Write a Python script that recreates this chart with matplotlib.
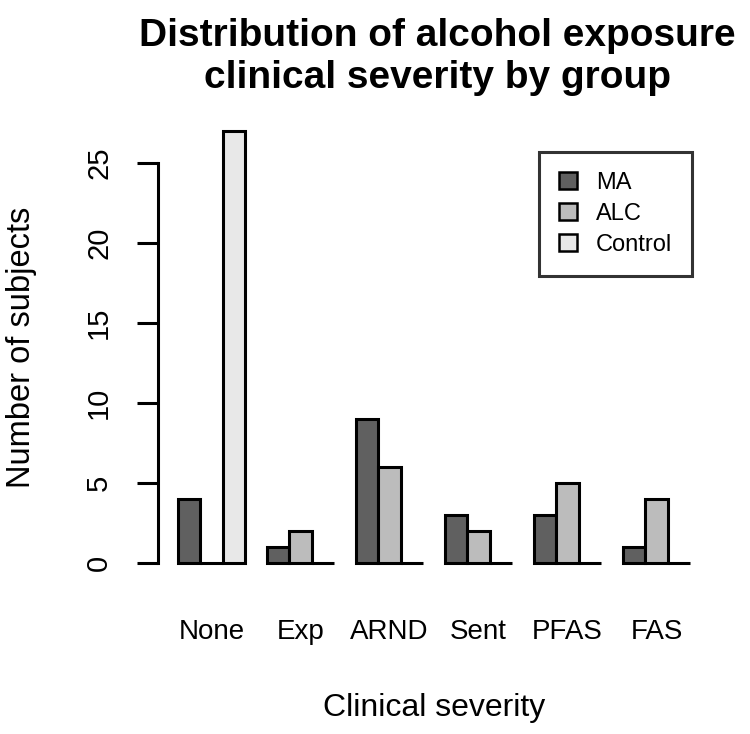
import numpy as np
import matplotlib.pyplot as plt

plt.rcParams['font.family'] = ['Liberation Sans', 'DejaVu Sans']

categories = ['None', 'Exp', 'ARND', 'Sent', 'PFAS', 'FAS']
groups = ['MA', 'ALC', 'Control']
ma = [4, 1, 9, 3, 3, 1]
alc = [0, 2, 6, 2, 5, 4]
control = [27, 0, 0, 0, 0, 0]
colors = ['#606060', '#bcbcbc', '#e8e8e8']

fig = plt.figure(figsize=(7.5, 7.34), dpi=100)
ax = fig.add_axes([157.5 / 750, 1 - 580.3 / 734, 553 / 750, 466.6 / 734])

# R style beside barplot: bars of width 1, one bar of space before each group
lw = 2.2
for j, vals in enumerate([ma, alc, control]):
    x = np.arange(len(categories)) * 4 + 1.5 + j
    ax.bar(x, vals, width=1, color=colors[j], edgecolor='black', linewidth=lw,
           label=groups[j], zorder=2)

centers = np.arange(len(categories)) * 4 + 2.5
ax.set_xlim(1 - 0.92, 24 + 0.92)
ax.set_ylim(-1.08, 28.08)

for s in ['top', 'right', 'bottom']:
    ax.spines[s].set_visible(False)
ax.spines['left'].set_bounds(0, 25)
ax.spines['left'].set_linewidth(lw)

ax.set_yticks([0, 5, 10, 15, 20, 25])
ax.tick_params(axis='y', length=15, width=lw, pad=17, labelsize=21, labelrotation=90)
for t in ax.get_yticklabels():
    t.set_va('center')
ax.set_xticks(centers)
ax.set_xticklabels(categories)
ax.tick_params(axis='x', length=0, pad=28, labelsize=20)

leg = ax.legend(loc='upper right', bbox_to_anchor=(692 / 750, 1 - 152 / 734),
                bbox_transform=fig.transFigure, fontsize=17, fancybox=False,
                edgecolor='black', handlelength=0.75, handleheight=0.75,
                borderpad=0.85, labelspacing=0.38, handletextpad=0.8, borderaxespad=0)
leg.get_frame().set_linewidth(lw)
for h in leg.legend_handles:
    h.set_linewidth(1.8)

fig.text(437 / 750, 1 - 57 / 734, 'Distribution of alcohol exposure\nclinical severity by group',
         ha='center', va='center', fontsize=28, fontweight='bold', linespacing=1.22)
fig.text(434 / 750, 1 - 708 / 734, 'Clinical severity', ha='center', va='center', fontsize=23)
fig.text(22 / 750, 1 - 347 / 734, 'Number of subjects', ha='center', va='center',
         rotation=90, fontsize=23.5)

fig.savefig('out.png', dpi=100)
